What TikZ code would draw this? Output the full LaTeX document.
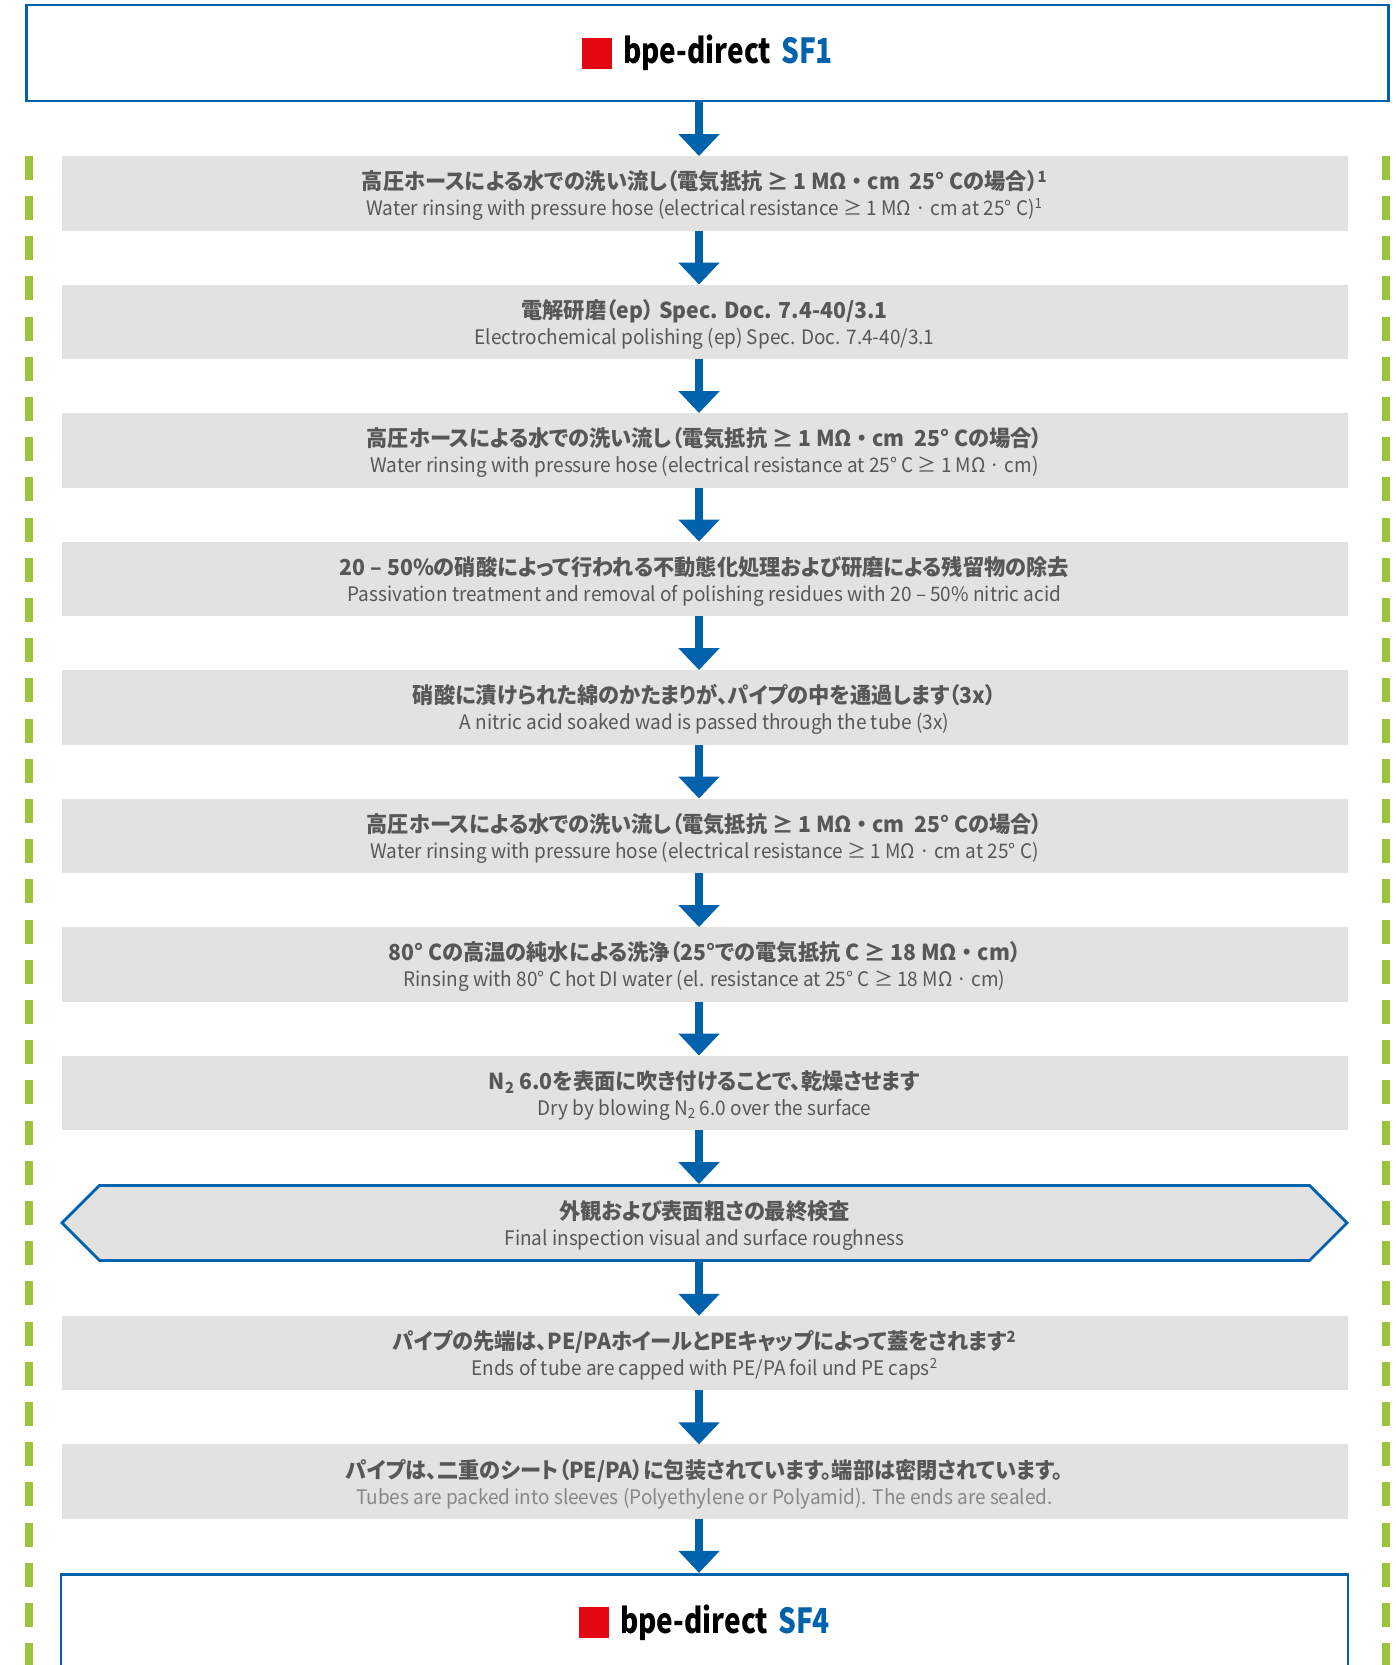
\documentclass[tikz,border=0pt]{standalone}
\usepackage{fontspec}
\usepackage{xcolor}
\usepackage{tikz}
\usetikzlibrary{positioning, arrows.meta, shapes.symbols}
\setmainfont{Noto Sans CJK JP}
\newfontfamily\jpfont{Noto Sans CJK JP}[FakeStretch=0.965, RawFeature=+palt]
\newfontfamily\enfont{Noto Sans CJK JP}[FakeStretch=0.95, RawFeature=+palt]
\newfontfamily\logofont{Noto Sans CJK JP}[FakeStretch=0.81]
\definecolor{bpeblue}{RGB}{0, 98, 172}
\definecolor{bpegreen}{RGB}{155, 196, 60}
\definecolor{bpered}{RGB}{227, 6, 19}
\definecolor{boxgray}{RGB}{226, 226, 226}
\definecolor{textgray}{RGB}{87, 87, 87}
\definecolor{lighttext}{RGB}{135, 135, 135}
\newcommand{\jpline}[1]{{\jpfont\bfseries\fontsize{22}{26}\selectfont\color{textgray}\rule{0pt}{24pt}#1}}
\newcommand{\enline}[2][textgray]{{\enfont\fontsize{20}{26}\selectfont\color{#1}#2}}
\newcommand{\logo}[1]{{\logofont\bfseries\fontsize{34.5}{38}\selectfont
  \textcolor{bpered}{\raisebox{-5pt}{\rule{30pt}{31pt}}}\hspace{11pt}bpe-direct\hspace{10pt}\textcolor{bpeblue}{#1}}}

\begin{document}
\begin{tikzpicture}[x=1pt, y=-1pt,
  stepbox/.style={rectangle, fill=boxgray, minimum width=1286pt, minimum height=74.5pt,
                  inner sep=0pt, outer sep=0pt, align=center, font=\fontsize{20}{26}\selectfont},
  checkbox/.style={signal, signal to=west and east, signal pointer angle=90,
                   draw=bpeblue, line width=2.8pt, fill=boxgray, minimum width=1285pt,
                   minimum height=75pt, inner sep=0pt, align=center, font=\fontsize{20}{26}\selectfont},
  framebox/.style={rectangle, draw=bpeblue, line width=2.8pt, fill=white,
                   minimum width=1362pt, minimum height=96pt, inner sep=0pt},
  flow/.style={draw=bpeblue, line width=8pt, -{Triangle[width=40pt, length=22pt]}},
  sideline/.style={draw=bpegreen, line width=8pt, dash pattern=on 24pt off 16.2pt}]

\useasboundingbox (0,0) rectangle (1395,1665);

% Green side markers
\draw[sideline] (29,155.7) -- (29,1680);
\draw[sideline] (1386,155.7) -- (1386,1680);

% Start
\node[framebox] (sf1) at (707.5,53) {\logo{SF1}};

% Process steps
\node[stepbox] (rinse1) at (704.5,193.3)
  {\jpline{高圧ホースによる水での洗い流し（電気抵抗 ≥ 1 MΩ ・ cm\ \ 25° Cの場合）\textsuperscript{1}}\\
   \enline{Water rinsing with pressure hose (electrical resistance ≥ 1 MΩ · cm at 25° C)\textsuperscript{1}}};
\node[stepbox, below=54pt of rinse1] (polish)
  {\jpline{電解研磨（ep） Spec. Doc. 7.4-40/3.1}\\
   \enline{Electrochemical polishing (ep) Spec. Doc. 7.4-40/3.1}};
\node[stepbox, below=54pt of polish] (rinse2)
  {\jpline{高圧ホースによる水での洗い流し（電気抵抗 ≥ 1 MΩ ・ cm\ \ 25° Cの場合）}\\
   \enline{Water rinsing with pressure hose (electrical resistance at 25° C ≥ 1 MΩ · cm)}};
\node[stepbox, below=54pt of rinse2] (passiv)
  {\jpline{20 – 50\%の硝酸によって行われる不動態化処理および研磨による残留物の除去}\\
   \enline{Passivation treatment and removal of polishing residues with 20 – 50\% nitric acid}};
\node[stepbox, below=54pt of passiv] (wad)
  {\jpline{硝酸に漬けられた綿のかたまりが、パイプの中を通過します（3x）}\\
   \enline{A nitric acid soaked wad is passed through the tube (3x)}};
\node[stepbox, below=54pt of wad] (rinse3)
  {\jpline{高圧ホースによる水での洗い流し（電気抵抗 ≥ 1 MΩ ・ cm\ \ 25° Cの場合）}\\
   \enline{Water rinsing with pressure hose (electrical resistance ≥ 1 MΩ · cm at 25° C)}};
\node[stepbox, below=54pt of rinse3] (hotdi)
  {\jpline{80° Cの高温の純水による洗浄（25°での電気抵抗 C ≥ 18 MΩ ・ cm）}\\
   \enline{Rinsing with 80° C hot DI water (el. resistance at 25° C ≥ 18 MΩ · cm)}};
\node[stepbox, below=54pt of hotdi] (dry)
  {\jpline{N\textsubscript{2} 6.0を表面に吹き付けることで、乾燥させます}\\
   \enline{Dry by blowing N\textsubscript{2} 6.0 over the surface}};

% Final inspection
\node[checkbox, below=54pt of dry] (inspect)
  {\jpline{外観および表面粗さの最終検査}\\
   \enline{Final inspection visual and surface roughness}};

% Packing
\node[stepbox, below=54pt of inspect] (caps)
  {\jpline{パイプの先端は、PE/PAホイールとPEキャップによって蓋をされます\textsuperscript{2}}\\
   \enline{Ends of tube are capped with PE/PA foil und PE caps\textsuperscript{2}}};
\node[stepbox, below=54pt of caps] (pack)
  {\jpline{パイプは、二重のシート（PE/PA）に包装されています。端部は密閉されています。}\\
   \enline[lighttext]{Tubes are packed into sleeves (Polyethylene or Polyamid). The ends are sealed.}};

% End
\node[framebox, minimum width=1287pt, below=54pt of pack] (sf4) {\logo{SF4}};

% Arrows
\coordinate (axis) at (699,0);
\foreach \a/\b in {sf1/rinse1, rinse1/polish, polish/rinse2, rinse2/passiv, passiv/wad,
                   wad/rinse3, rinse3/hotdi, hotdi/dry, dry/inspect, inspect/caps,
                   caps/pack, pack/sf4}
  \draw[flow] (\a.south -| axis) -- (\b.north -| axis);

\end{tikzpicture}
\end{document}
